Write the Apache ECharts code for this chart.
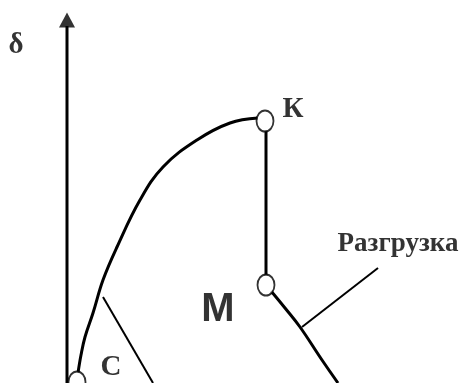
<!DOCTYPE html>
<html>
<head>
<meta charset="utf-8">
<style>
  html, body { margin: 0; padding: 0; background: #fff; }
  #chart { width: 471px; height: 383px; }
</style>
<script src="https://cdn.jsdelivr.net/npm/echarts@6/dist/echarts.min.js"></script>
</head>
<body>
<div id="chart"></div>
<script>
// picture units: x to the right, y downwards
var axisLine = [[67, 383], [67, 26]];
var arrowTip = [[67, 20]];

var loadCurve = [
	[78, 373], [81, 355], [85, 337], [93, 313], [103, 280], [117, 247],
	[140, 200], [163, 167], [197, 140], [230, 123], [258, 118]
];
var holdLine = [[266, 130], [266, 276]];
var unloadCurve = [[271, 291], [285, 308], [300, 327], [322, 360], [338, 383]];

var leaderUnload = [[378, 268], [302, 327]];
var leaderC = [[103, 297], [153, 383]];

var pointNames = ['C', 'K', 'M'];
var pointXY = [[77, 382], [265, 121], [266, 285]];

var labelNames = ['δ', 'К', 'С'];
var labelXY = [[16, 46], [293, 110], [111, 368]];
var wordLabel = ['Разгрузка'];
var wordLabelXY = [[398, 244]];
var bigLabel = ['М'];
var bigLabelXY = [[218, 310]];

function lineSeries(data, width) {
	return {
		type: 'line',
		data: data,
		symbol: 'none',
		silent: true,
		lineStyle: { color: '#000', width: width },
		z: 2
	};
}

function textSeries(names, xy, family, size) {
	return {
		type: 'scatter',
		data: xy.map(function (p, i) { return { name: names[i], value: p }; }),
		symbolSize: 0,
		silent: true,
		label: {
			show: true,
			position: 'inside',
			formatter: '{b}',
			color: '#000',
			fontFamily: family,
			fontWeight: 'bold',
			fontSize: size
		},
		z: 6
	};
}

var chart = echarts.init(document.getElementById('chart'));

var series = [
	lineSeries(axisLine, 3),
	{
		type: 'scatter',
		data: arrowTip,
		symbol: 'triangle',
		symbolSize: [16, 15],
		itemStyle: { color: '#000' },
		z: 3
	},
	Object.assign(lineSeries(loadCurve, 3), { smooth: 0.4 }),
	lineSeries(holdLine, 3),
	Object.assign(lineSeries(unloadCurve, 3), { smooth: 0.4 }),
	lineSeries(leaderUnload, 2),
	lineSeries(leaderC, 2),
	{
		type: 'scatter',
		data: pointXY.map(function (p, i) { return { name: pointNames[i], value: p }; }),
		symbol: 'circle',
		symbolSize: [17, 21],
		itemStyle: { color: '#fff', borderColor: '#000', borderWidth: 2 },
		z: 5
	},
	textSeries(labelNames, labelXY, 'Liberation Serif', 29),
	textSeries(wordLabel, wordLabelXY, 'Liberation Serif', 27),
	textSeries(bigLabel, bigLabelXY, 'Liberation Sans', 40)
];

chart.setOption({
	animation: false,
	grid: { left: 0, right: 0, top: 0, bottom: 0 },
	xAxis: { type: 'value', min: 0, max: 471, show: false },
	yAxis: { type: 'value', min: 0, max: 383, inverse: true, show: false },
	series: series
});
</script>
</body>
</html>
